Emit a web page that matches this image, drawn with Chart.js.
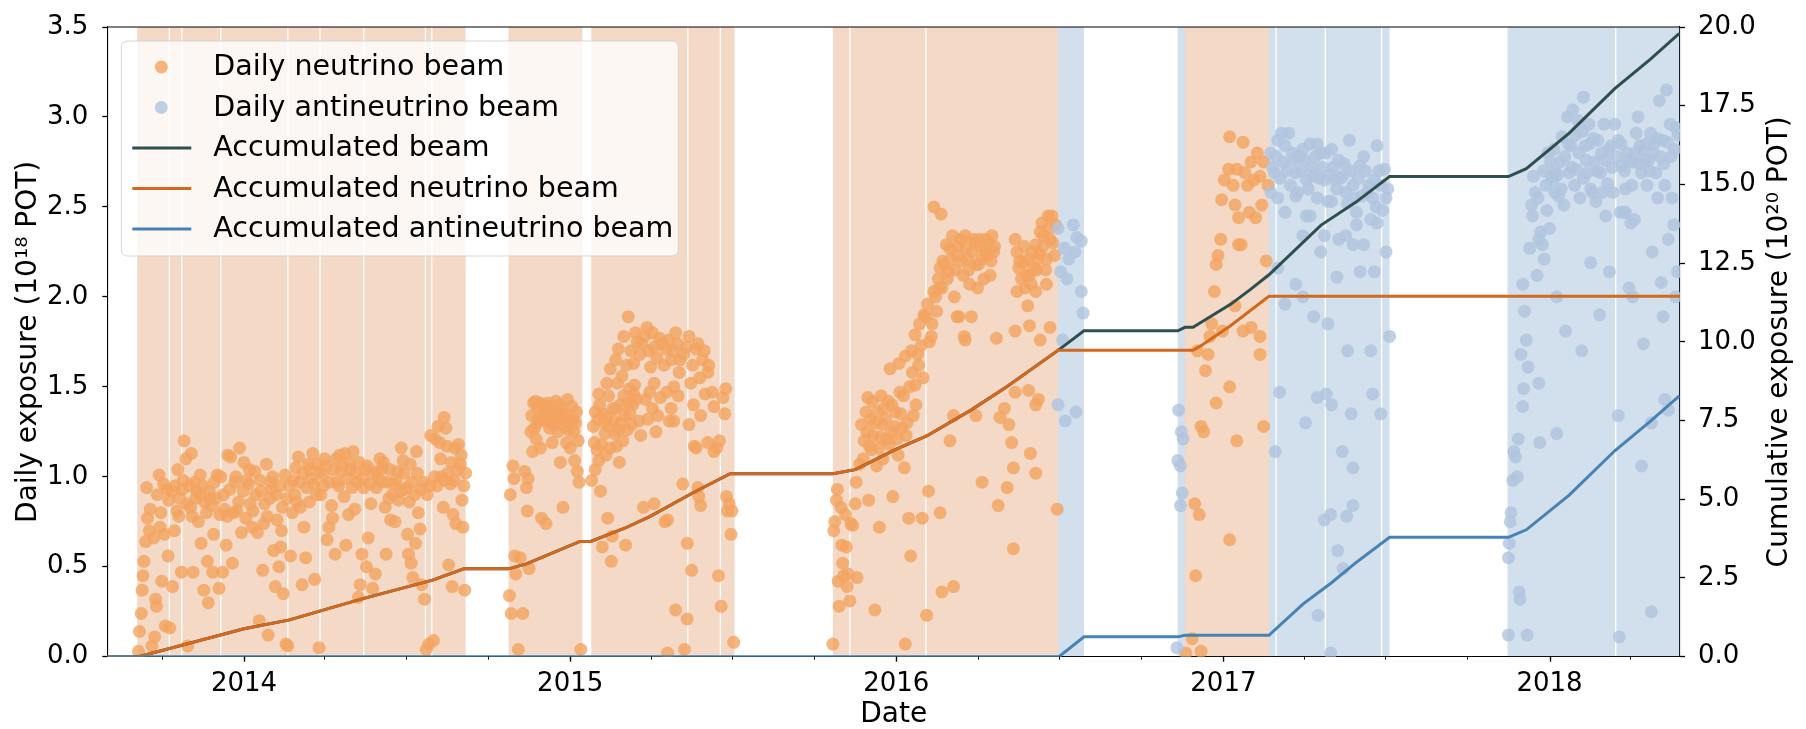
<!DOCTYPE html>
<html>
<head>
<meta charset="utf-8">
<title>Beam exposure</title>
<script src="https://cdn.jsdelivr.net/npm/chart.js@4.4.1/dist/chart.umd.min.js"></script>
<style>
    html, body { margin: 0; padding: 0; background: #fff; }
    #wrap { width: 1806px; height: 729px; position: relative; }
</style>
</head>
<body>
<div id="wrap"><canvas id="exposureChart"></canvas></div>
<script>
// All x values are days counted from 2014-01-01 (negative = 2013)
const xMin = -153;
const xMax = 1607;
const yearTicks = [2014, 2015, 2016, 2017, 2018];

// Periods of beam running (shaded bands)
const nuSpans = [
    [-119.5, -84.3], [-82.8, -70.4], [-68.9, -26.7], [-25.2, 48.3], [49.8, 84.3],
    [85.8, 133.3], [134.8, 202.3], [203.8, 209.3], [210.8, 248],
    [296, 378.6],
    [388.6, 495.9], [497.4, 532.3], [533.8, 549],
    [659, 677.3], [678.8, 762.3], [763.8, 911],
    [1053, 1147]
];
const antiSpans = [
    [911, 940],
    [1044.8, 1053],
    [1147, 1154.3], [1155.8, 1209.3], [1210.8, 1272.3], [1273.8, 1282],
    [1414, 1534.3], [1535.8, 1620]
];

// Daily neutrino exposure (1e18 POT): [day, value]
const nuDaily2013 = [
    [-118, 0.03], [-117, 0.14], [-115, 0.24], [-114, 0.37], [-113, 0.45], [-112, 0.53], [-110, 0.64],
    [-109, 0.94], [-108, 0.77], [-105, 0.82], [-103, 0.06], [-100, 0.11], [-99, 0.32], [-98, 0.28],
    [-95, 1.01], [-94, 0.72], [-92, 0.42], [-90, 0.96], [-88, 0.17], [-85, 0.56], [-84, 0.87],
    [-83, 0.16], [-80, 0.39], [-78, 0.70], [-75, 0.81], [-74, 1.04], [-73, 0.78], [-70, 0.47],
    [-69, 0.93], [-67, 1.20], [-65, 1.10], [-63, 0.06], [-60, 0.83], [-59, 1.13], [-57, 0.47],
    [-55, 0.97], [-53, 0.92], [-51, 0.75], [-49, 1.01], [-48, 0.63], [-45, 0.37], [-44, 0.86],
    [-41, 0.53], [-40, 0.30], [-38, 0.88], [-35, 0.47], [-34, 0.68], [-33, 0.97], [-30, 1.01],
    [-28, 0.38], [-27, 0.79], [-24, 0.47], [-23, 0.90], [-20, 0.62], [-18, 1.12], [-15, 1.11],
    [-13, 0.52], [-10, 0.97], [-8, 0.81], [-5, 1.16], [-3, 0.69], [0, 1.08], [2, 0.77], [5, 0.96],
    [6, 1.04], [10, 0.81], [12, 1.03], [15, 0.69], [17, 0.20], [19, 0.92], [21, 0.48], [22, 0.74],
    [25, 1.07], [27, 0.12], [30, 0.97], [31, 0.93], [33, 0.59], [35, 0.39], [37, 0.76], [39, 0.50],
    [41, 0.61], [42, 0.70], [44, 0.35], [46, 1.01], [47, 0.07], [49, 0.06], [52, 0.56], [54, 0.80],
    [57, 0.90], [58, 1.05], [61, 1.11], [63, 0.83], [65, 0.40], [67, 0.72], [69, 0.55], [72, 1.07],
    [73, 0.86], [75, 0.99], [77, 1.13], [79, 0.43], [82, 1.07], [84, 0.05], [86, 0.90], [88, 1.01],
    [90, 1.10], [93, 0.65], [95, 0.72], [98, 0.84], [99, 0.77], [102, 0.57], [104, 0.97], [107, 1.12],
    [109, 1.03], [112, 0.89], [113, 1.13], [114, 0.62], [117, 0.79], [119, 1.04], [122, 1.14],
    [124, 0.82], [127, 0.97], [128, 0.33], [130, 0.40], [132, 0.57], [134, 0.94], [137, 0.50],
    [138, 1.06], [139, 0.66], [142, 0.85], [144, 0.38], [147, 0.46], [149, 1.03], [152, 1.10],
    [154, 0.97], [156, 1.08], [158, 0.83], [159, 0.57], [162, 0.88], [164, 0.76], [167, 0.96],
    [169, 0.75], [172, 1.03], [173, 0.87], [176, 1.16], [178, 1.09], [180, 0.93], [183, 0.68],
    [184, 0.57], [186, 1.07], [187, 0.52], [189, 0.44], [192, 0.63], [193, 1.14], [195, 0.80],
    [197, 0.71], [199, 0.40], [202, 0.32], [204, 0.04], [207, 0.07], [209, 1.23], [212, 0.09],
    [214, 1.21], [217, 1.28], [219, 1.19], [221, 1.00], [223, 0.83], [224, 1.33], [226, 1.27],
    [227, 1.17], [229, 0.51], [231, 0.96], [233, 0.39], [234, 0.79], [236, 1.16], [237, 0.74],
    [240, 1.18], [242, 1.07], [244, 0.87], [245, 0.72], [247, 0.37], [248, 1.02],
    [-106, 0.70], [-101, 0.66], [-97, 0.90], [-93, 0.80], [-89, 0.68], [-86, 0.93], [-81, 0.92],
    [-77, 0.95], [-72, 0.88], [-68, 0.98], [-64, 0.85], [-61, 0.95], [-58, 0.78], [-54, 0.88],
    [-50, 0.90], [-46, 0.95], [-42, 0.80], [-39, 0.92], [-36, 0.84], [-31, 0.88], [-26, 1.00],
    [-22, 0.82], [-19, 0.78], [-16, 0.93], [-12, 0.80], [-9, 1.00], [-6, 0.86], [-1, 0.92],
    [3, 0.98], [7, 0.85], [9, 0.72], [13, 0.90], [18, 0.98], [23, 0.85], [26, 0.78], [29, 0.88],
    [32, 1.00], [36, 0.90], [40, 0.95], [43, 0.83], [48, 0.88], [51, 0.95], [55, 0.98], [59, 0.86],
    [62, 0.97], [66, 1.02], [70, 0.94], [74, 1.04], [78, 0.96], [81, 0.90], [85, 1.03], [89, 0.95],
    [92, 1.06], [96, 0.97], [100, 1.04], [103, 1.10], [106, 0.95], [110, 1.06], [115, 0.99],
    [118, 1.08], [121, 0.94], [125, 1.02], [129, 1.08], [133, 0.99], [136, 1.04], [141, 0.96],
    [145, 1.02], [148, 0.94], [151, 0.99], [155, 1.05], [160, 0.97], [163, 1.04], [166, 0.90],
    [170, 0.98], [175, 0.92], [179, 1.02], [182, 0.94], [185, 0.86], [188, 0.97], [191, 0.90],
    [194, 1.02], [198, 0.93], [201, 0.97], [205, 0.90], [208, 0.95], [213, 1.00], [216, 0.95],
    [220, 1.10], [225, 0.98], [228, 1.02], [232, 1.08], [235, 0.98], [239, 1.04], [243, 1.12],
    [246, 0.95]
];
const nuDaily2015 = [
    [297, 0.34], [298, 0.90], [299, 0.24], [301, 1.06], [302, 0.99], [303, 0.56], [304, 0.46],
    [307, 0.04], [309, 0.55], [312, 0.24], [314, 1.03], [316, 0.94], [317, 0.81], [318, 0.99],
    [319, 0.49], [322, 1.34], [323, 1.14], [324, 1.41], [325, 1.27], [326, 1.42], [327, 1.21],
    [329, 1.38], [330, 1.32], [331, 1.41], [332, 1.16], [333, 0.77], [335, 1.36], [336, 1.31],
    [338, 0.74], [340, 1.41], [341, 1.34], [342, 1.27], [343, 1.39], [345, 1.19], [346, 1.32],
    [347, 1.29], [349, 1.42], [350, 1.36], [351, 1.25], [352, 1.31], [354, 1.08], [355, 1.38],
    [356, 1.32], [357, 0.83], [359, 1.28], [360, 1.35], [361, 1.19], [362, 1.43], [364, 1.31],
    [365, 1.16], [367, 1.39], [368, 1.32], [369, 1.25], [370, 1.09], [372, 1.36], [373, 1.03],
    [375, 0.97], [377, 0.04],
    [321, 1.25], [328, 1.30], [334, 1.40], [339, 1.33], [344, 1.30], [348, 1.37], [353, 1.40],
    [358, 1.33], [363, 1.26], [366, 1.30], [371, 1.30], [374, 1.20],
    [389, 0.98], [391, 1.28], [392, 1.19], [393, 1.04], [395, 1.15], [396, 1.32], [397, 1.09],
    [399, 0.92], [400, 1.18], [401, 0.61], [402, 1.35], [404, 1.24], [405, 1.12], [406, 1.33],
    [407, 0.77], [409, 1.28], [410, 1.16], [411, 0.53], [412, 0.67], [414, 1.31], [415, 1.24],
    [416, 1.38], [417, 1.17], [419, 1.26], [420, 1.08], [421, 1.40], [422, 1.30], [424, 1.20],
    [425, 1.45], [426, 1.34], [427, 0.62], [429, 1.26], [430, 1.41], [431, 1.49], [432, 1.35],
    [434, 1.29], [435, 1.40], [436, 1.46], [437, 1.51], [439, 1.43], [442, 1.31], [444, 1.23],
    [447, 0.83], [449, 1.43], [452, 1.32], [454, 1.47], [457, 1.38], [459, 1.52], [461, 1.25],
    [463, 1.34], [466, 1.44], [471, 0.75], [473, 1.47], [476, 1.31], [478, 1.38], [481, 1.50],
    [483, 0.26], [486, 1.45], [491, 0.96], [493, 0.04], [496, 0.63], [498, 1.29], [501, 0.48],
    [503, 1.40], [506, 1.16], [508, 0.94],
    [397, 1.46], [406, 1.52], [410, 1.60], [416, 1.65], [419, 1.71], [425, 1.78], [430, 1.89],
    [436, 1.63], [438, 1.80], [445, 1.74], [451, 1.83], [455, 1.61], [459, 1.72], [465, 1.77],
    [472, 1.71], [478, 1.65], [485, 1.74], [487, 1.58], [492, 1.68], [498, 1.78], [500, 1.52],
    [506, 1.71], [513, 1.65], [516, 1.46], [519, 1.58], [526, 1.39], [532, 1.20],
    [393, 1.36], [398, 1.40], [403, 1.30], [408, 1.45], [413, 1.38], [418, 1.52], [423, 1.56],
    [428, 1.62], [433, 1.70], [440, 1.75], [443, 1.68], [448, 1.78], [453, 1.70], [457, 1.80],
    [462, 1.66], [468, 1.74], [470, 1.62], [475, 1.76], [480, 1.70], [483, 1.80], [488, 1.65],
    [495, 1.72], [502, 1.62], [508, 1.74], [510, 1.55], [515, 1.70], [520, 1.62],
    [459, 0.85], [474, 0.76], [474, 0.02], [481, 1.31], [496, 0.21], [504, 1.17], [509, 0.89],
    [511, 1.34], [511, 0.84], [519, 1.19], [524, 1.47], [526, 1.14], [529, 1.16], [531, 0.45],
    [534, 0.28], [536, 1.44], [538, 1.35], [539, 1.49], [540, 0.89], [541, 0.81], [543, 0.85],
    [545, 0.68], [546, 0.81], [548, 0.08]
];
const nuDaily2016 = [
    [659, 0.07], [660, 0.70], [661, 0.75], [663, 0.87], [664, 0.93], [665, 0.42], [666, 0.28],
    [668, 0.83], [669, 0.62], [670, 0.52], [671, 0.45], [673, 0.79], [674, 0.61], [675, 0.39],
    [676, 0.46], [678, 0.31], [679, 0.74], [681, 0.73], [684, 0.85], [685, 0.97], [686, 0.44],
    [689, 1.07], [691, 1.29], [694, 1.20], [696, 1.36], [698, 1.44], [699, 0.87], [700, 1.17],
    [701, 1.32], [703, 1.42], [704, 1.23], [706, 0.26], [708, 1.06], [709, 1.36], [710, 1.16],
    [711, 0.72], [713, 1.45], [714, 1.29], [716, 1.38], [719, 1.21], [721, 1.42], [724, 1.25],
    [726, 0.89], [729, 1.36], [731, 1.21], [734, 1.47], [736, 1.27], [739, 1.05], [740, 0.07],
    [741, 1.23], [744, 0.77], [746, 0.56], [749, 1.34], [751, 1.51], [759, 0.77], [764, 0.23],
    [766, 0.92], [779, 0.80], [781, 0.36], [790, 1.20], [794, 0.39], [794, 1.34], [819, 1.34],
    [826, 0.97], [844, 0.84], [846, 1.33], [851, 1.38], [854, 0.94], [856, 1.29], [859, 1.19],
    [861, 0.60], [861, 1.05], [863, 1.47], [878, 1.48], [880, 1.13], [886, 1.02], [886, 1.40],
    [889, 1.43], [910, 0.82],
    [693, 1.10], [697, 1.25], [702, 1.15], [706, 1.30], [712, 1.22], [715, 1.10], [718, 1.32],
    [722, 1.18], [725, 1.40], [728, 1.28], [732, 1.12], [735, 1.35], [738, 1.45], [742, 1.30],
    [745, 1.50], [748, 1.58], [752, 1.40], [755, 1.62], [760, 1.55], [767, 1.75], [770, 1.85],
    [775, 1.92], [778, 2.05], [782, 2.20], [787, 2.10], [790, 2.27], [796, 2.15], [799, 2.28],
    [803, 2.20], [808, 2.27], [811, 2.15], [815, 2.25], [818, 2.30], [822, 2.18], [825, 2.28],
    [829, 2.25], [833, 2.30], [836, 2.20], [840, 2.28], [868, 2.20], [873, 2.28], [876, 2.12],
    [882, 2.25], [887, 2.15], [890, 2.24], [894, 2.28], [897, 2.15], [901, 2.38], [905, 2.30],
    [908, 2.40],
    [723, 1.60], [733, 1.63], [740, 1.67], [747, 1.70], [754, 1.68], [758, 1.73], [751, 1.79],
    [756, 1.85], [761, 1.90], [765, 1.96], [763, 1.89], [769, 1.78], [772, 2.03], [774, 2.00],
    [777, 2.10], [779, 2.16], [781, 2.05], [784, 2.18], [786, 2.29], [788, 2.14], [791, 2.21],
    [793, 2.34], [795, 2.00], [798, 2.23], [800, 1.89], [802, 2.32], [805, 2.12], [807, 2.34],
    [809, 2.21], [812, 2.07], [814, 1.89], [816, 2.32], [819, 2.18], [821, 2.05], [823, 2.32],
    [826, 2.21], [828, 2.10], [830, 2.32], [832, 2.23], [835, 2.12], [837, 2.34], [839, 2.25],
    [842, 1.77], [772, 2.50], [780, 2.46], [807, 1.76], [798, 1.89], [806, 1.78],
    [863, 2.32], [865, 2.25], [867, 2.16], [870, 2.10], [872, 2.19], [874, 2.05], [877, 2.21],
    [879, 2.12], [881, 2.07], [884, 2.16], [886, 2.29], [888, 2.21], [891, 2.36], [893, 2.41],
    [895, 2.34], [898, 2.21], [900, 2.45], [902, 2.32], [904, 2.45], [907, 2.23], [863, 1.81],
    [865, 2.03], [877, 1.95], [879, 1.84], [886, 2.03], [891, 1.76], [898, 2.07], [902, 1.83]
];
const nuDaily2017 = [
    [1054, 0.02], [1061, 0.10], [1064, 0.85], [1065, 0.45], [1069, 0.79], [1071, 1.28], [1071, 0.03],
    [1074, 1.25], [1088, 1.41], [1103, 1.50], [1103, 0.65], [1111, 1.20], [1141, 1.28],
    [1067, 1.70], [1076, 1.59], [1079, 1.68], [1081, 1.78], [1083, 1.85], [1086, 2.03], [1088, 2.18],
    [1090, 2.23], [1093, 2.32], [1094, 2.54], [1097, 2.65], [1102, 2.71], [1103, 2.89], [1107, 2.62],
    [1109, 2.51], [1111, 2.71], [1113, 2.44], [1116, 2.29], [1118, 2.86], [1120, 2.69], [1123, 2.62],
    [1125, 2.47], [1127, 2.75], [1130, 2.65], [1132, 2.44], [1134, 2.80], [1137, 2.67], [1139, 2.51],
    [1141, 2.75], [1144, 2.20], [1146, 2.62], [1095, 1.81], [1109, 1.95], [1118, 1.81], [1127, 1.83],
    [1137, 1.78], [1137, 1.68], [1113, 2.29]
];

// Daily antineutrino exposure (1e18 POT): [day, value]
const antiDaily2016 = [
    [911, 2.38], [918, 2.27], [928, 2.40], [932, 2.33], [937, 2.31], [923, 2.21], [914, 2.14],
    [930, 2.25], [921, 2.10], [937, 2.03], [939, 1.91], [916, 1.76], [911, 1.40], [919, 1.31],
    [931, 1.36],
    [1046, 1.37], [1049, 1.25], [1051, 1.21], [1045, 1.09], [1048, 1.06], [1050, 0.91], [1048, 0.84],
    [1044, 0.05]
];
const antiDaily2017 = [
    [1149, 2.80], [1153, 2.69], [1157, 2.87], [1161, 2.91], [1165, 2.84], [1169, 2.91], [1173, 2.80],
    [1177, 2.69], [1181, 2.78], [1185, 2.82], [1189, 2.65], [1193, 2.85], [1197, 2.67], [1201, 2.85],
    [1205, 2.80], [1209, 2.65], [1213, 2.53], [1217, 2.82], [1221, 2.65], [1225, 2.76], [1229, 2.67],
    [1233, 2.58], [1237, 2.87], [1241, 2.62], [1245, 2.47], [1249, 2.73], [1253, 2.78], [1257, 2.58],
    [1261, 2.43], [1265, 2.65], [1268, 2.84], [1272, 2.62], [1276, 2.71], [1278, 2.55],
    [1149, 2.58], [1157, 2.55], [1165, 2.47], [1177, 2.56], [1185, 2.34], [1193, 2.45], [1201, 2.55],
    [1205, 2.25], [1209, 2.34], [1217, 2.53], [1225, 2.32], [1233, 2.34], [1241, 2.29], [1245, 2.40],
    [1249, 2.14], [1253, 2.29], [1265, 2.14], [1268, 2.41], [1278, 2.25], [1157, 2.16], [1177, 2.07],
    [1185, 2.00], [1165, 1.96], [1197, 1.89], [1213, 1.85], [1235, 1.70], [1261, 1.70], [1282, 1.78],
    [1223, 2.11], [1189, 2.45],
    [1151, 2.72], [1155, 2.78], [1159, 2.66], [1163, 2.75], [1167, 2.70], [1171, 2.62], [1175, 2.76],
    [1179, 2.58], [1183, 2.70], [1187, 2.76], [1191, 2.60], [1195, 2.72], [1199, 2.78], [1203, 2.66],
    [1207, 2.72], [1211, 2.80], [1215, 2.68], [1219, 2.72], [1223, 2.60], [1227, 2.66], [1231, 2.74],
    [1235, 2.52], [1239, 2.70], [1243, 2.55], [1247, 2.66], [1251, 2.56], [1255, 2.70], [1259, 2.62],
    [1263, 2.55], [1267, 2.50], [1270, 2.70], [1274, 2.48], [1280, 2.60],
    [1159, 1.47], [1201, 1.44], [1211, 1.46], [1217, 1.40], [1263, 1.46], [1272, 1.35], [1188, 1.30],
    [1239, 1.35], [1154, 1.14], [1229, 1.14], [1241, 1.05], [1209, 0.76], [1216, 0.79], [1241, 0.84],
    [1234, 0.78], [1224, 0.59], [1230, 0.49], [1202, 0.23], [1216, 0.02]
];
const antiDaily2018 = [
    [1429, 1.68], [1431, 2.07], [1433, 1.92], [1435, 1.76], [1437, 1.61], [1439, 2.27], [1441, 2.51],
    [1443, 2.67], [1445, 2.58], [1447, 2.12], [1449, 2.32], [1451, 2.36], [1453, 2.29], [1455, 2.21],
    [1457, 2.62], [1459, 2.80], [1461, 2.38], [1463, 2.67], [1465, 2.65], [1467, 2.58], [1469, 2.00],
    [1471, 2.56], [1473, 2.75], [1475, 2.89], [1477, 2.51], [1479, 1.81], [1481, 3.00], [1483, 2.69],
    [1485, 2.84], [1487, 3.04], [1489, 2.62], [1491, 2.71], [1493, 2.98], [1495, 2.55], [1497, 1.70],
    [1499, 3.11], [1501, 2.84], [1503, 2.69], [1505, 2.96], [1507, 2.19], [1509, 2.58], [1511, 2.75],
    [1513, 2.53], [1515, 2.87], [1517, 1.90], [1518, 2.69], [1520, 2.58], [1522, 2.96], [1524, 2.45],
    [1526, 2.63], [1528, 2.14], [1530, 2.84], [1532, 2.58], [1534, 2.96], [1538, 2.87], [1540, 2.47],
    [1542, 2.73], [1544, 2.47], [1546, 2.60], [1548, 2.80], [1550, 2.05], [1552, 2.41], [1554, 2.75],
    [1556, 2.43], [1558, 2.91], [1560, 3.00], [1562, 2.84], [1564, 2.69], [1566, 1.74], [1568, 2.76],
    [1570, 2.62], [1572, 2.76], [1574, 2.91], [1576, 2.25], [1578, 2.85], [1580, 2.69], [1582, 2.55],
    [1584, 3.09], [1586, 2.08], [1588, 2.87], [1590, 2.62], [1592, 3.15], [1594, 2.32], [1596, 2.96],
    [1598, 2.55], [1600, 2.40], [1602, 2.94], [1604, 2.14], [1602, 2.00], [1588, 1.89], [1554, 2.00],
    [1546, 2.47], [1507, 2.60], [1467, 2.69], [1499, 2.66],
    [1442, 2.45], [1448, 2.55], [1454, 2.70], [1458, 2.48], [1462, 2.75], [1466, 2.82], [1470, 2.68],
    [1474, 2.60], [1478, 2.78], [1482, 2.85], [1486, 2.72], [1490, 2.90], [1494, 2.80], [1498, 2.92],
    [1502, 2.76], [1506, 2.85], [1510, 2.88], [1514, 2.70], [1519, 2.80], [1523, 2.76], [1527, 2.82],
    [1531, 2.72], [1536, 2.78], [1541, 2.85], [1545, 2.70], [1549, 2.76], [1553, 2.62], [1557, 2.80],
    [1561, 2.74], [1565, 2.82], [1569, 2.85], [1573, 2.70], [1577, 2.80], [1581, 2.88], [1585, 2.78],
    [1589, 2.74], [1593, 2.86], [1597, 2.78], [1601, 2.82], [1605, 2.90],
    [1432, 1.49], [1431, 1.39], [1449, 1.52], [1426, 1.21], [1421, 1.14], [1423, 1.11], [1425, 1.00],
    [1420, 0.98], [1418, 0.80], [1417, 0.75], [1416, 0.63], [1415, 0.55], [1427, 0.36], [1428, 0.32],
    [1415, 0.12], [1436, 0.12], [1450, 1.19], [1469, 1.24], [1538, 1.34], [1564, 1.06], [1575, 1.30],
    [1575, 0.25], [1539, 0.11], [1594, 1.37], [1590, 1.43]
];

// Accumulated exposure (1e20 POT): [day, value]
const accTotal = [
    [-153, 0], [-118, 0], [0, 0.89], [51, 1.17], [131, 1.83], [211, 2.43], [246, 2.79], [296, 2.79],
    [316, 2.95], [376, 3.66], [388, 3.66], [426, 4.08], [454, 4.45], [504, 5.23], [544, 5.81],
    [659, 5.81], [684, 5.94], [730, 6.59], [764, 7.01], [814, 7.84], [854, 8.58], [911, 9.73],
    [940, 10.35], [1045, 10.35], [1053, 10.46], [1062, 10.46], [1104, 11.19], [1126, 11.66],
    [1147, 12.13], [1205, 13.70], [1244, 14.43], [1282, 15.25], [1415, 15.25], [1435, 15.50],
    [1483, 16.63], [1534, 18.04], [1574, 18.98], [1606, 19.79]
];
const accNu = [
    [-153, 0], [-118, 0], [0, 0.89], [51, 1.17], [131, 1.83], [211, 2.43], [246, 2.79], [296, 2.79],
    [316, 2.95], [376, 3.66], [388, 3.66], [426, 4.08], [454, 4.45], [504, 5.23], [544, 5.81],
    [659, 5.81], [684, 5.94], [730, 6.59], [764, 7.01], [814, 7.84], [854, 8.58], [911, 9.73],
    [1062, 9.73], [1071, 9.88], [1104, 10.51], [1147, 11.45], [1607, 11.45]
];
const accAnti = [
    [-153, 0], [912, 0], [940, 0.63], [1045, 0.63], [1053, 0.68], [1147, 0.68], [1185, 1.67],
    [1217, 2.35], [1244, 2.98], [1282, 3.79], [1415, 3.79], [1435, 4.03], [1483, 5.13],
    [1534, 6.54], [1574, 7.48], [1606, 8.28]
];

// ---- helpers ----
const DAY0 = Date.UTC(2014, 0, 1);
function dayOf(y, m, d) {
    return Math.round((Date.UTC(y, m, d) - DAY0) / 864e5);
}
function toXY(pairs) {
    return pairs.map(p => ({ x: p[0], y: p[1] }));
}

// Quarter ticks, labelled only on Jan 1
const quarterTicks = [];
const yearAt = {};
for (let y = 2013; y <= 2018; y++) {
    [0, 3, 6, 9].forEach(function (m) {
        const d = dayOf(y, m, 1);
        if (d >= xMin && d <= xMax) quarterTicks.push(d);
    });
}
yearTicks.forEach(y => { yearAt[dayOf(y, 0, 1)] = String(y); });

const FONT = 'DejaVu Sans';
Chart.defaults.font.family = FONT;
Chart.defaults.color = '#000';

/**
 * Shaded run periods behind the data
 */
const runBands = {
    id: 'runBands',
    beforeDatasetsDraw(chart) {
        const ctx = chart.ctx;
        const area = chart.chartArea;
        const xs = chart.scales.x;
        ctx.save();
        ctx.beginPath();
        ctx.rect(area.left, area.top, area.right - area.left, area.bottom - area.top);
        ctx.clip();
        function fillSpans(spans, color) {
            ctx.fillStyle = color;
            spans.forEach(function (s) {
                const x1 = xs.getPixelForValue(s[0]);
                const x2 = xs.getPixelForValue(s[1]);
                ctx.fillRect(x1, area.top, x2 - x1, area.bottom - area.top);
            });
        }
        fillSpans(nuSpans, 'rgba(210, 105, 30, 0.25)');
        fillSpans(antiSpans, 'rgba(70, 130, 180, 0.25)');
        ctx.restore();

        // top spine
        ctx.save();
        ctx.strokeStyle = '#000';
        ctx.lineWidth = 1.1;
        ctx.beginPath();
        ctx.moveTo(area.left, area.top);
        ctx.lineTo(area.right, area.top);
        ctx.stroke();
        ctx.restore();
    }
};

/**
 * Major / minor x tick marks, right axis title and the legend
 */
const decorations = {
    id: 'decorations',
    afterDraw(chart) {
        const ctx = chart.ctx;
        const area = chart.chartArea;
        const xs = chart.scales.x;

        ctx.save();
        ctx.strokeStyle = '#000';
        quarterTicks.forEach(function (d) {
            const px = Math.round(xs.getPixelForValue(d)) + 0.5;
            const major = yearAt[d] !== undefined;
            ctx.lineWidth = major ? 1.4 : 1;
            ctx.beginPath();
            ctx.moveTo(px, area.bottom);
            ctx.lineTo(px, area.bottom + (major ? 5 : 3));
            ctx.stroke();
        });
        ctx.restore();

        // Right axis title, reading bottom to top like the left one
        ctx.save();
        ctx.translate(1780, (area.top + area.bottom) / 2);
        ctx.rotate(-Math.PI / 2);
        ctx.font = '28px "' + FONT + '"';
        ctx.fillStyle = '#000';
        ctx.textAlign = 'center';
        ctx.textBaseline = 'middle';
        ctx.fillText('Cumulative exposure (10\u00b2\u2070 POT)', 0, 0);
        ctx.restore();

        // Legend
        const x0 = area.left + 14;
        const y0 = area.top + 14;
        const w = 557;
        const h = 215;
        ctx.save();
        ctx.beginPath();
        ctx.roundRect(x0, y0, w, h, 6);
        ctx.fillStyle = 'rgba(255, 255, 255, 0.8)';
        ctx.fill();
        ctx.strokeStyle = 'rgba(204, 204, 204, 0.8)';
        ctx.lineWidth = 1;
        ctx.stroke();

        ctx.font = '28.5px "' + FONT + '"';
        ctx.textBaseline = 'middle';
        ctx.textAlign = 'left';
        chart.data.datasets.forEach(function (ds, i) {
            const cy = y0 + 26 + i * 40.5;
            if (ds.showLine) {
                ctx.strokeStyle = ds.borderColor;
                ctx.lineWidth = 3;
                ctx.beginPath();
                ctx.moveTo(x0 + 11, cy);
                ctx.lineTo(x0 + 70, cy);
                ctx.stroke();
            } else {
                ctx.fillStyle = ds.backgroundColor;
                ctx.beginPath();
                ctx.arc(x0 + 40, cy, 6.5, 0, Math.PI * 2);
                ctx.fill();
            }
            ctx.fillStyle = '#000';
            ctx.fillText(ds.label, x0 + 92, cy + 1);
        });
        ctx.restore();
    }
};

const nuColor = 'rgba(244, 164, 96, 0.8)';
const antiColor = 'rgba(176, 196, 222, 0.8)';

function lineSet(label, pairs, color, order) {
    return {
        label: label,
        data: toXY(pairs),
        yAxisID: 'y2',
        showLine: true,
        borderColor: color,
        backgroundColor: color,
        borderWidth: 3,
        pointRadius: 0,
        tension: 0,
        order: order
    };
}

new Chart(document.getElementById('exposureChart'), {
    type: 'scatter',
    data: {
        datasets: [
            {
                label: 'Daily neutrino beam',
                data: toXY(nuDaily2013.concat(nuDaily2015, nuDaily2016, nuDaily2017)),
                yAxisID: 'y',
                backgroundColor: nuColor,
                borderWidth: 0,
                pointRadius: 6.5,
                order: 6
            },
            {
                label: 'Daily antineutrino beam',
                data: toXY(antiDaily2016.concat(antiDaily2017, antiDaily2018)),
                yAxisID: 'y',
                backgroundColor: antiColor,
                borderWidth: 0,
                pointRadius: 6.5,
                order: 5
            },
            lineSet('Accumulated beam', accTotal, '#2f4f4f', 3),
            lineSet('Accumulated neutrino beam', accNu, '#d2691e', 2),
            lineSet('Accumulated antineutrino beam', accAnti, '#4682b4', 1)
        ]
    },
    options: {
        responsive: true,
        maintainAspectRatio: false,
        animation: false,
        devicePixelRatio: 1,
        layout: {
            padding: { top: 19.3, left: 0, right: 0, bottom: 0 }
        },
        plugins: {
            legend: { display: false },
            tooltip: { enabled: false }
        },
        scales: {
            x: {
                type: 'linear',
                min: xMin,
                max: xMax,
                afterBuildTicks: function (scale) {
                    scale.ticks = quarterTicks.map(v => ({ value: v }));
                },
                afterFit: function (scale) { scale.height = 72.3; },
                grid: { display: true, drawOnChartArea: false, drawTicks: false },
                border: { display: true, color: '#000', width: 1.1 },
                ticks: {
                    autoSkip: false,
                    maxRotation: 0,
                    padding: 15,
                    font: { size: 26, lineHeight: 1 },
                    callback: function (value) { return yearAt[value] || ''; }
                },
                title: {
                    display: true,
                    text: 'Date',
                    font: { size: 28, lineHeight: 1 },
                    padding: { top: 0, bottom: 0 }
                }
            },
            y: {
                position: 'left',
                min: 0,
                max: 3.5,
                afterFit: function (scale) { scale.width = 107.3; },
                grid: { display: true, drawOnChartArea: false, drawTicks: true, tickLength: 5, tickColor: '#000', tickWidth: 1.3 },
                border: { display: true, color: '#000', width: 1.1 },
                ticks: {
                    stepSize: 0.5,
                    padding: 14,
                    font: { size: 26, lineHeight: 1 },
                    callback: v => v.toFixed(1)
                },
                title: {
                    display: true,
                    text: 'Daily exposure (10\u00b9\u2078 POT)',
                    font: { size: 28, lineHeight: 1 },
                    padding: { top: 15, bottom: 0 }
                }
            },
            y2: {
                position: 'right',
                min: 0,
                max: 20,
                afterFit: function (scale) { scale.width = 126; },
                grid: { display: true, drawOnChartArea: false, drawTicks: true, tickLength: 5, tickColor: '#000', tickWidth: 1.3 },
                border: { display: true, color: '#000', width: 1.1 },
                ticks: {
                    stepSize: 2.5,
                    padding: 13,
                    font: { size: 26, lineHeight: 1 },
                    callback: v => v.toFixed(1)
                }
            }
        }
    },
    plugins: [runBands, decorations]
});
</script>
</body>
</html>
